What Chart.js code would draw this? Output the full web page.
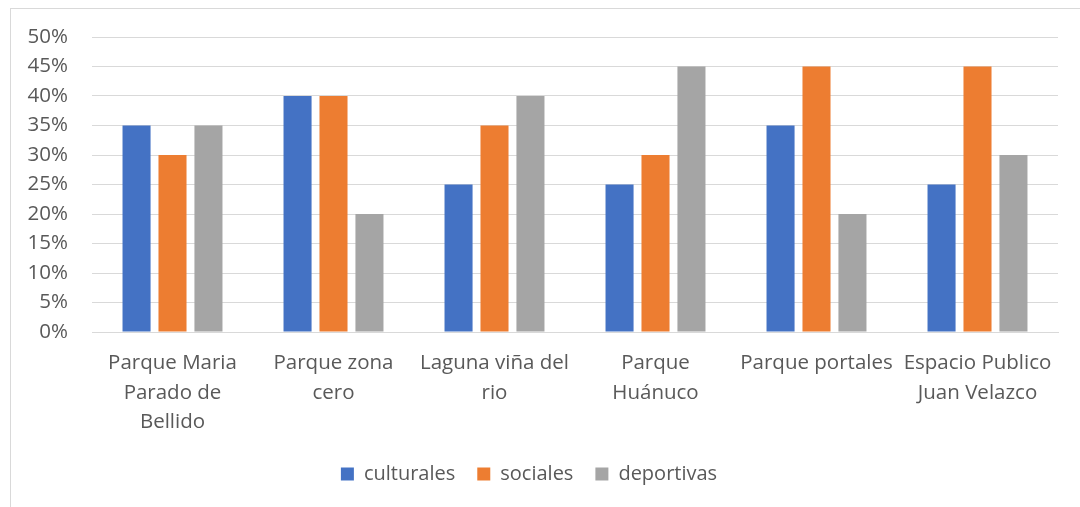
<!DOCTYPE html>
<html><head><meta charset="utf-8">
<script src="https://cdn.jsdelivr.net/npm/chart.js@4"></script>
<style>
html,body{margin:0;padding:0;background:#fff;width:1080px;height:507px;overflow:hidden}
#wrap{position:relative;width:1080px;height:507px}
#frame{position:absolute;left:10px;top:8px;width:1090px;height:520px;border:1px solid #d9d9d9;box-sizing:border-box;pointer-events:none}
canvas{position:absolute;left:0;top:0}
</style></head><body>
<div id="wrap"><canvas id="c" width="1080" height="507"></canvas><div id="frame"></div></div>
<script>
const categories = [
  ["Parque Maria","Parado de","Bellido"],
  ["Parque zona","cero"],
  ["Laguna viña del","rio"],
  ["Parque","Huánuco"],
  ["Parque portales"],
  ["Espacio Publico","Juan Velazco"]
];
const culturales = [35, 40, 25, 25, 35, 25];
const sociales   = [30, 40, 35, 30, 45, 45];
const deportivas = [35, 20, 40, 45, 20, 30];
const yTicks = [0,5,10,15,20,25,30,35,40,45,50];

const FONT = "'Open Sans', 'Liberation Sans', sans-serif";
const TXT = "#595959";
Chart.defaults.font.family = FONT;
Chart.defaults.color = TXT;

new Chart(document.getElementById('c'), {
  type: 'bar',
  data: {
    labels: categories,
    datasets: [
      {label:'culturales', data:culturales, backgroundColor:'#4472C4'},
      {label:'sociales', data:sociales, backgroundColor:'#ED7D31'},
      {label:'deportivas', data:deportivas, backgroundColor:'#A5A5A5'}
    ]
  },
  options: {
    responsive:false, animation:false,
    devicePixelRatio:1,
    datasets:{bar:{categoryPercentage:0.67, barPercentage:0.78}},
    layout:{padding:{left:0, right:22, top:37, bottom:13}},
    plugins:{
      legend:{position:'bottom',
        labels:{boxWidth:13, boxHeight:13, padding:22, color:TXT, font:{size:20, family:FONT}}},
      tooltip:{enabled:false}
    },
    scales:{
      x:{
        grid:{display:false, drawTicks:false},
        border:{display:true, color:'#d9d9d9', width:1},
        ticks:{color:TXT, font:{size:20.5, family:FONT, lineHeight:1.42}, padding:17, maxRotation:0, autoSkip:false},
        afterFit(s){ s.height = 110; }
      },
      y:{
        min:0, max:50,
        afterBuildTicks(s){ s.ticks = yTicks.map(v=>({value:v})); },
        grid:{color:'#d9d9d9', lineWidth:1, drawTicks:false},
        border:{display:false},
        ticks:{color:TXT, font:{size:20.5, family:FONT}, padding:24, callback:v=>v+'%'},
        afterFit(s){ s.width = 92; }
      }
    }
  }
});
</script>
</body></html>
